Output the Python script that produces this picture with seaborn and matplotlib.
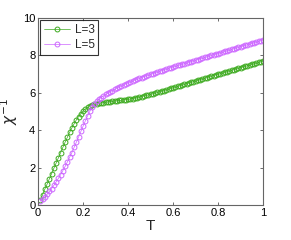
import matplotlib
matplotlib.use('Agg')
import matplotlib.pyplot as plt
import numpy as np
import pandas as pd
import seaborn as sns

# temperature grid, 0.01 .. 1.00
T = [round(0.01 * i, 2) for i in range(1, 101)]

# inverse susceptibility, L=3
chi_inv_L3 = [
    0.25, 0.55, 0.85, 1.12, 1.40, 1.68, 1.96, 2.24, 2.52, 2.80,
    3.08, 3.36, 3.62, 3.88, 4.12, 4.34, 4.55, 4.73, 4.89, 5.02,
    5.13, 5.22, 5.29, 5.34, 5.38, 5.41, 5.44, 5.46, 5.48, 5.50,
    5.51, 5.53, 5.54, 5.56, 5.57, 5.59, 5.60, 5.62, 5.64, 5.65,
    5.67, 5.69, 5.72, 5.74, 5.77, 5.80, 5.83, 5.86, 5.89, 5.92,
    5.95, 5.98, 6.02, 6.05, 6.09, 6.12, 6.16, 6.20, 6.24, 6.27,
    6.31, 6.34, 6.38, 6.41, 6.45, 6.49, 6.52, 6.56, 6.60, 6.63,
    6.67, 6.71, 6.74, 6.78, 6.81, 6.85, 6.89, 6.92, 6.96, 6.99,
    7.03, 7.06, 7.10, 7.13, 7.17, 7.20, 7.24, 7.27, 7.31, 7.34,
    7.38, 7.41, 7.45, 7.48, 7.52, 7.55, 7.59, 7.62, 7.66, 7.69,
]

# inverse susceptibility, L=5
chi_inv_L5 = [
    0.20, 0.32, 0.44, 0.57, 0.72, 0.88, 1.05, 1.23, 1.42, 1.62,
    1.84, 2.06, 2.30, 2.55, 2.80, 3.08, 3.36, 3.64, 3.93, 4.22,
    4.50, 4.77, 5.01, 5.22, 5.40, 5.54, 5.65, 5.74, 5.83, 5.91,
    5.98, 6.05, 6.12, 6.19, 6.25, 6.31, 6.37, 6.42, 6.48, 6.53,
    6.58, 6.63, 6.68, 6.72, 6.77, 6.81, 6.86, 6.90, 6.94, 6.99,
    7.03, 7.07, 7.11, 7.15, 7.19, 7.23, 7.27, 7.31, 7.35, 7.38,
    7.42, 7.46, 7.49, 7.53, 7.56, 7.60, 7.64, 7.67, 7.71, 7.74,
    7.78, 7.82, 7.85, 7.89, 7.92, 7.96, 8.00, 8.03, 8.07, 8.10,
    8.14, 8.18, 8.21, 8.25, 8.28, 8.32, 8.36, 8.39, 8.43, 8.46,
    8.50, 8.54, 8.57, 8.61, 8.64, 8.68, 8.72, 8.75, 8.79, 8.82,
]

labels = ['L=3', 'L=5']
colors = ['#3caa1e', '#cc66ff']

x_ticks = [0, 0.2, 0.4, 0.6, 0.8, 1]
x_ticklabels = ['0', '0.2', '0.4', '0.6', '0.8', '1']
y_ticks = [0, 2, 4, 6, 8, 10]

df = pd.concat([
    pd.DataFrame({'T': T, 'chi': chi_inv_L3, 'L': labels[0]}),
    pd.DataFrame({'T': T, 'chi': chi_inv_L5, 'L': labels[1]}),
])

sns.set_theme(style='ticks')
plt.rcParams['font.family'] = ['Liberation Sans', 'DejaVu Sans']
plt.rcParams['mathtext.fontset'] = 'dejavusans'

fig = plt.figure(figsize=(2.91, 2.40), dpi=100)
ax = fig.add_axes([0.131, 0.146, 0.773, 0.779])

sns.lineplot(data=df, x='T', y='chi', hue='L', palette=colors,
             marker='o', markersize=3.5, markerfacecolor='none',
             markeredgewidth=0.7, linewidth=0.5, ax=ax)
# open circles: use hue colour for the marker edge
for line, c in zip(ax.lines, colors):
    line.set_markeredgecolor(c)

ax.set_xlim(0, 1)
ax.set_ylim(0, 10)
ax.set_xticks(x_ticks)
ax.set_xticklabels(x_ticklabels)
ax.set_yticks(y_ticks)
ax.tick_params(direction='in', length=2.5, width=0.6, labelsize=8,
               top=True, right=True, pad=2, colors='#555555', labelcolor='black')
for s in ax.spines.values():
    s.set_color('#666666')
    s.set_linewidth(0.8)

ax.set_xlabel('T', fontsize=11, labelpad=1)
ax.set_ylabel(r'$\chi^{-1}$', fontsize=11, labelpad=2)

leg = ax.legend(loc='upper left', fontsize=8.5, frameon=True, fancybox=False,
                borderpad=0.3, handlelength=2.2, handletextpad=0.4,
                labelspacing=0.3, borderaxespad=0.2)
leg.get_frame().set_edgecolor('black')
leg.get_frame().set_linewidth(0.8)
for h, c in zip(leg.get_lines(), colors):
    h.set_markerfacecolor('none')
    h.set_markeredgecolor(c)

fig.savefig('out.png', dpi=100)
